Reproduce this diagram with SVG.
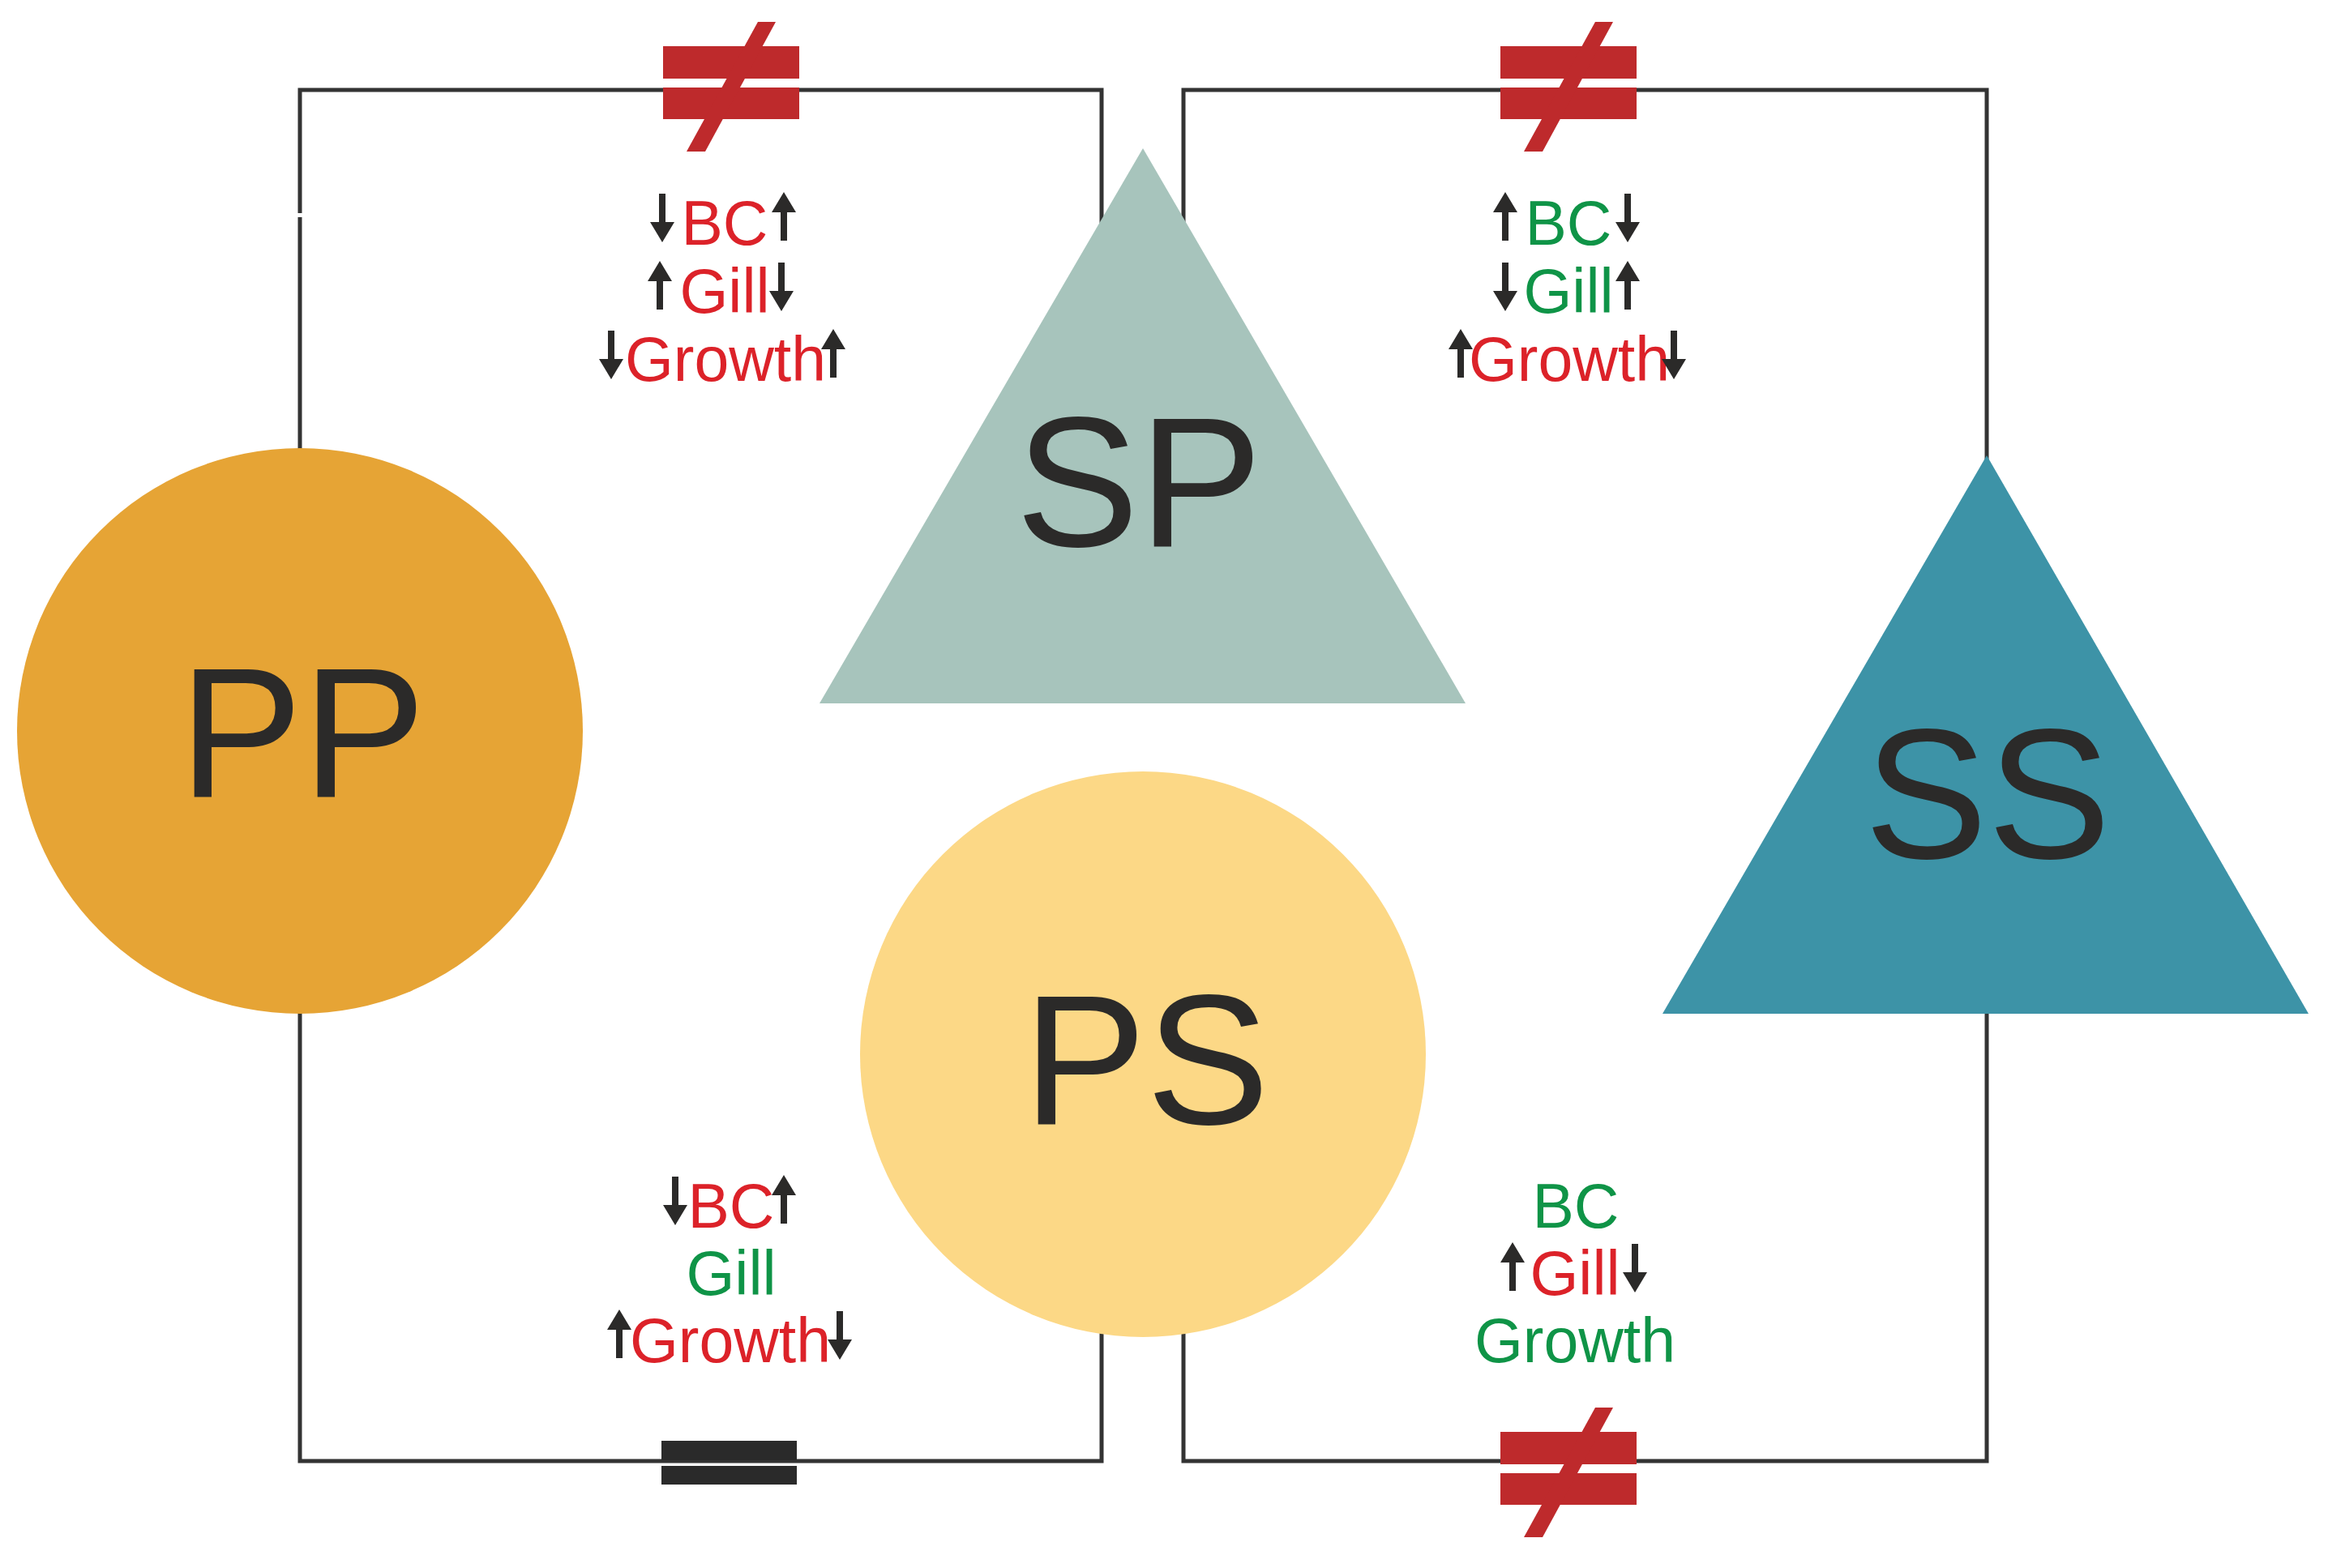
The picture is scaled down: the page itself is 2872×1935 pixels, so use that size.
<svg xmlns="http://www.w3.org/2000/svg" width="2872" height="1935" viewBox="0 0 2872 1935">
<style>
.wire{fill:none;stroke:#333333;stroke-width:5;stroke-linejoin:miter;stroke-linecap:butt}
.big{font-family:"Liberation Sans",Arial,sans-serif;font-size:228px;fill:#2B2A29;text-anchor:middle}
.lab{font-family:"Liberation Sans",Arial,sans-serif;font-size:77px;text-anchor:middle}
.r{fill:#DC2229}
.g{fill:#0F9447}
.arr{fill:#2B2A29}
</style>
<defs>
<path id="up" d="M0,0 L15,25 H4 V60 H-4 V25 H-15 Z"/>
<path id="dn" d="M0,60 L15,35 H4 V0 H-4 V35 H-15 Z"/>
<g id="neq">
<rect x="0" y="0" width="168" height="40" fill="#BE2A2C"/>
<rect x="0" y="51" width="168" height="39" fill="#BE2A2C"/>
<polygon points="117,-30 139,-30 52,130 29,130" fill="#BE2A2C"/>
</g>
<g id="eq">
<rect x="0" y="0" width="167" height="24" fill="#2A2A2A"/>
<rect x="0" y="31" width="167" height="23" fill="#2A2A2A"/>
</g>
</defs>
<rect width="2872" height="1935" fill="#FFFFFF"/>
<g id="connectors">
<path class="wire" d="M370,263 V111 H1359 V285"/>
<path class="wire" d="M370,268 V620"/>
<path class="wire" d="M370,1200 V1803 H1359 V1600"/>
<path class="wire" d="M1460,285 V111 H2451 V620"/>
<path class="wire" d="M2451,1200 V1803 H1460 V1600"/>
</g>
<g id="symbols">
<use href="#neq" x="818" y="57"/>
<use href="#neq" x="1851" y="57"/>
<use href="#neq" x="1851" y="1767"/>
<use href="#eq" x="816" y="1778"/>
</g>
<g id="node-PP">
<circle cx="370" cy="902" r="349" fill="#E6A435"/>
<text class="big" x="373" y="983">PP</text>
</g>
<g id="node-PS">
<circle cx="1410" cy="1301" r="349" fill="#FCD886"/>
<text class="big" x="1414" y="1387">PS</text>
</g>
<g id="node-SP">
<polygon points="1410,183 1808,868 1011,868" fill="#A7C4BC"/>
<text class="big" x="1405" y="674">SP</text>
</g>
<g id="node-SS">
<polygon points="2451,562 2848,1251 2051,1251" fill="#3D93A7"/>
<text class="big" x="2452" y="1059">SS</text>
</g>
<g id="label-top-left">
<text class="lab r" x="894" y="302">BC</text>
<text class="lab r" x="894" y="386">Gill</text>
<text class="lab r" x="895" y="470">Growth</text>
<use class="arr" href="#dn" x="817" y="239"/>
<use class="arr" href="#up" x="967" y="237"/>
<use class="arr" href="#up" x="814" y="322"/>
<use class="arr" href="#dn" x="964" y="324"/>
<use class="arr" href="#dn" x="754" y="408"/>
<use class="arr" href="#up" x="1028" y="406"/>
</g>
<g id="label-top-right">
<text class="lab g" x="1935" y="302">BC</text>
<text class="lab g" x="1935" y="386">Gill</text>
<text class="lab r" x="1936" y="470">Growth</text>
<use class="arr" href="#up" x="1857" y="237"/>
<use class="arr" href="#dn" x="2008" y="239"/>
<use class="arr" href="#dn" x="1857" y="324"/>
<use class="arr" href="#up" x="2008" y="322"/>
<use class="arr" href="#up" x="1802" y="406"/>
<use class="arr" href="#dn" x="2065" y="408"/>
</g>
<g id="label-bottom-left">
<text class="lab r" x="902" y="1515">BC</text>
<text class="lab g" x="902" y="1598">Gill</text>
<text class="lab r" x="901" y="1681">Growth</text>
<use class="arr" href="#dn" x="833" y="1452"/>
<use class="arr" href="#up" x="967" y="1450"/>
<use class="arr" href="#up" x="764" y="1616"/>
<use class="arr" href="#dn" x="1036" y="1618"/>
</g>
<g id="label-bottom-right">
<text class="lab g" x="1944" y="1515">BC</text>
<text class="lab r" x="1943" y="1598">Gill</text>
<text class="lab g" x="1943" y="1681">Growth</text>
<use class="arr" href="#up" x="1866" y="1533"/>
<use class="arr" href="#dn" x="2017" y="1535"/>
</g>
</svg>
